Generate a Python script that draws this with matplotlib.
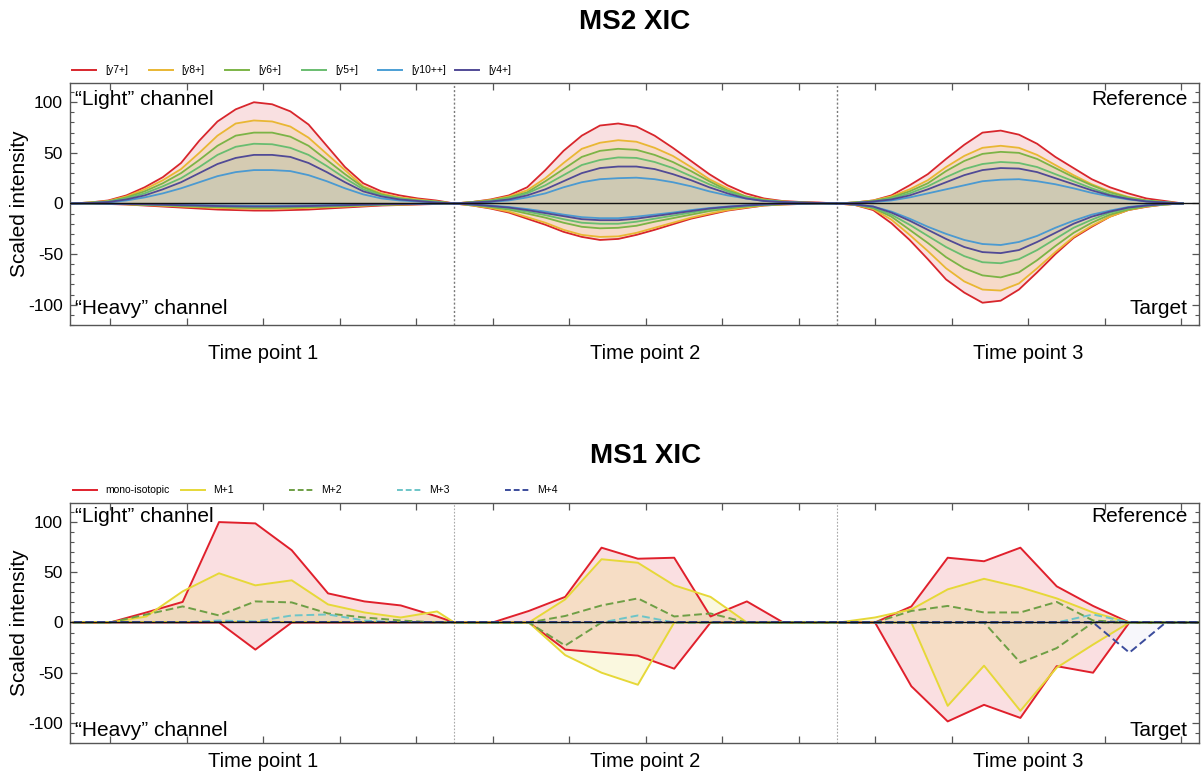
import numpy as np
import matplotlib
matplotlib.use("Agg")
import matplotlib.pyplot as plt
from matplotlib.lines import Line2D
from matplotlib.ticker import MultipleLocator, NullFormatter

plt.rcParams["font.family"] = ["Liberation Sans", "DejaVu Sans"]
plt.rcParams["axes.unicode_minus"] = False

# ---------------- MS2 fragment traces (scaled intensity) ----------------
# one list per time point; "light" = reference channel, "heavy" = target channel
y7_light = [
    [0, 1, 3, 8, 16, 26, 40, 62, 81, 93, 100, 98, 91, 78, 57, 36, 20, 12, 8, 5, 3, 0],
    [0, 1.5, 4, 8, 16, 33, 52, 67, 77, 79, 76, 67, 55, 42, 29, 18, 10, 5, 2.5, 1.5, 1, 0],
    [0, 1, 3, 8, 18, 29, 44, 58, 70, 72, 68, 59, 46, 35, 24, 16, 10, 5, 2.5, 0],
]
y8_light = [
    [0, 1, 2.5, 7, 14, 23, 34, 50, 67, 79, 82, 81, 76, 65, 49, 33, 17, 10, 6, 4, 2, 0],
    [0, 1.5, 3.5, 7, 13, 25, 40, 54, 60, 62.5, 61, 55, 47, 36, 24, 15, 7, 4, 2, 1, 0.5, 0],
    [0, 1, 3, 7, 14, 23, 36, 47, 55, 57, 55, 48, 38, 28, 19, 12, 6.5, 3, 1.5, 0],
]
y6_light = [
    [0, 1, 2, 6, 12, 20, 30, 43, 57, 67, 70, 70, 66, 57, 43, 29, 16, 9, 5, 3, 2, 0],
    [0, 1.5, 3, 6, 11, 22, 34, 46, 52, 54, 53, 48, 41, 32, 22, 13, 7, 3.5, 2, 1, 0.5, 0],
    [0, 1, 2.5, 6, 12, 20, 32, 42, 49, 51, 50, 44, 35, 26, 18, 11, 6, 3, 1.5, 0],
]
y5_light = [
    [0, 0.5, 2, 5, 10, 17, 25, 36, 48, 56, 59, 58.5, 55, 48, 37, 25, 14, 8, 5, 3, 1.5, 0],
    [0, 1, 2.5, 5, 10, 18, 28, 38, 43, 45.5, 45, 41, 35, 27, 19, 12, 6, 3, 1.5, 1, 0.5, 0],
    [0, 1, 2, 5, 10, 17, 26, 34, 39, 41, 40, 36, 29, 22, 15, 9, 5, 2.5, 1, 0],
]
y10_light = [
    [0, 0.5, 1, 3, 6, 10, 15, 21, 27, 31, 33, 33, 32, 28, 22, 15, 9, 5, 3, 2, 1, 0],
    [0, 0.5, 1.5, 3, 6, 10, 16, 21, 24, 25, 25.5, 24, 21, 17, 12, 8, 5, 2.5, 1.5, 0.5, 0.3, 0],
    [0, 0.5, 1.5, 3, 6, 10, 14, 18, 22, 23.5, 24, 22, 19, 15, 10.5, 7, 4, 2, 1, 0],
]
y4_light = [
    [0, 0.5, 1.5, 4, 8, 14, 21, 30, 39, 45, 48, 48, 46, 40, 31, 21, 12, 7, 4, 2.5, 1, 0],
    [0, 1, 2, 4, 8, 14, 22, 30, 35, 36.5, 36.5, 34, 29, 23, 16, 10, 5, 2.5, 1.5, 1, 0.5, 0],
    [0, 0.5, 2, 4, 8, 14, 21, 28, 33, 35, 34.5, 31, 25, 19, 13, 8, 4.5, 2, 1, 0],
]

y7_heavy = [
    [0, 0, -0.5, -1, -2, -3, -4, -5, -6, -6.5, -7, -7, -6.5, -6, -5, -4, -3, -2, -1.5, -1, -0.5, 0],
    [0, -2, -5, -9, -15, -21, -28, -33, -36, -35, -31, -26, -20.5, -15, -11, -7, -4.5, -2, -1, -0.5, 0, 0],
    [0, -1.5, -6.5, -19.5, -36, -55, -75, -88, -98, -96, -85, -68, -50, -34, -23, -13, -6.5, -3.3, -1, 0],
]
y8_heavy = [
    [0, 0, -0.4, -0.8, -1.5, -2.2, -3, -3.7, -4.4, -4.9, -5.2, -5.2, -4.9, -4.4, -3.7, -3, -2.2, -1.5, -1.1, -0.7, -0.4, 0],
    [0, -2, -4.5, -8, -13.5, -19, -26, -31, -33, -32.5, -29, -24, -19, -14, -10, -6.5, -4, -2, -1, -0.5, 0, 0],
    [0, -1.5, -5.5, -16, -31, -47, -64, -77, -85, -86, -79, -64, -48, -33, -22, -13, -6.5, -3, -1, 0],
]
y6_heavy = [
    [0, 0, -0.3, -0.7, -1.2, -1.8, -2.5, -3.1, -3.6, -4, -4.3, -4.3, -4, -3.6, -3.1, -2.5, -1.8, -1.2, -0.9, -0.6, -0.3, 0],
    [0, -1.5, -3.5, -6, -10, -14, -19, -23, -24.5, -24, -22, -18, -14.5, -11, -7.5, -5, -3, -1.5, -0.8, -0.3, 0, 0],
    [0, -1, -4.5, -13, -26, -39, -53, -64, -71, -73, -68, -56, -42, -29, -19, -11, -6, -2.5, -1, 0],
]
y5_heavy = [
    [0, 0, -0.3, -0.6, -1, -1.5, -2, -2.5, -3, -3.3, -3.5, -3.5, -3.3, -3, -2.5, -2, -1.5, -1, -0.7, -0.5, -0.2, 0],
    [0, -1.2, -3, -5, -8, -11.5, -15.5, -19, -20, -20, -18, -15, -12, -9, -6, -4, -2.5, -1.2, -0.6, -0.3, 0, 0],
    [0, -1, -4, -11, -21, -32, -43, -52, -58, -59, -55, -46, -35, -24, -16, -9, -5, -2, -1, 0],
]
y10_heavy = [
    [0, 0, -0.2, -0.4, -0.6, -0.9, -1.3, -1.6, -1.9, -2.1, -2.3, -2.3, -2.1, -1.9, -1.6, -1.3, -0.9, -0.6, -0.5, -0.3, -0.1, 0],
    [0, -1, -2, -3.5, -5.5, -8, -11, -13.5, -14.5, -14.5, -13, -11, -9, -6.5, -4.5, -3, -1.8, -0.9, -0.4, -0.2, 0, 0],
    [0, -1, -3, -8, -15, -23, -30, -36, -40, -41, -38, -32, -24, -17, -11, -7, -3.5, -1.5, -0.5, 0],
]
y4_heavy = [
    [0, 0, -0.2, -0.5, -0.8, -1.2, -1.7, -2.1, -2.5, -2.8, -3, -3, -2.8, -2.5, -2.1, -1.7, -1.2, -0.8, -0.6, -0.4, -0.2, 0],
    [0, -1, -2.5, -4, -6.5, -9.5, -12.5, -15.5, -16.5, -16.5, -15, -12.5, -10, -7.5, -5, -3.3, -2, -1, -0.5, -0.2, 0, 0],
    [0, -1, -3, -9, -17, -26, -35, -43, -48, -49, -46, -38, -29, -20, -13, -8, -4, -2, -0.5, 0],
]

# ---------------- MS1 isotope traces (scaled intensity) ----------------
# MS1 scan offsets inside each time-point window
ms1_offsets = [0.025, 0.5, 0.975, 1.45, 1.925, 2.4, 2.875, 3.35, 3.825, 4.3, 4.775, 5.0]

mono_light = [
    [0, 0, 10, 20.5, 100, 98.7, 72, 29, 21, 17, 6, 0],
    [0, 0, 11.5, 25.5, 74.5, 63.5, 64.5, 6, 21, 0, 0, 0],
    [0, 0, 16, 64.5, 61, 74.5, 36, 16.5, 0, 0, 0, 0],
]
mono_heavy = [
    [0, 0, 0, 0, 0, -27, 0, 0, 0, 0, 0, 0],
    [0, 0, 0, -27, -30, -33, -46, 0, 0, 0, 0, 0],
    [0, 0, -63.5, -98.5, -82, -95, -43.5, -50, 0, 0, 0, 0],
]
m1_light = [
    [0, 0, 6, 31, 49, 37, 42, 18, 10, 5, 11, 0],
    [0, 0, 0, 23, 63, 59.5, 37, 25.5, 0, 0, 0, 0],
    [0, 5, 13, 33, 43.5, 35, 24, 10, 0, 0, 0, 0],
]
m1_heavy = [
    [0, 0, 0, 0, 0, 0, 0, 0, 0, 0, 0, 0],
    [0, 0, 0, -32.5, -50, -62, 0, 0, 0, 0, 0, 0],
    [0, 0, 0, -83, -43, -88, -45, -22, 0, 0, 0, 0],
]
m2_light = [
    [0, 0, 8, 16, 7, 21, 20, 9, 5, 2, 0, 0],
    [0, 0, 0, 6.5, 17, 24, 6, 9, 0, 0, 0, 0],
    [0, 0, 11.5, 16.5, 10, 10, 20.5, 2, 0, 0, 0, 0],
]
m2_heavy = [
    [0, 0, 0, 0, 0, 0, 0, 0, 0, 0, 0, 0],
    [0, 0, 0, -23, 0, 0, 0, 0, 0, 0, 0, 0],
    [0, 0, 0, 0, 0, -40, -25.5, 0, 0, 0, 0, 0],
]
m3_light = [
    [0, 0, 0, 0, 2, 1, 7, 8, 2, 0, 0, 0],
    [0, 0, 0, 0, 0, 7, 0, 0, 0, 0, 0, 0],
    [0, 0, 0, 0, 0, 0, 0, 8, 0, 0, 0, 0],
]
m3_heavy = [
    [0, 0, 0, 0, 0, 0, 0, 0, 0, 0, 0, 0],
    [0, 0, 0, 0, 0, 0, 0, 0, 0, 0, 0, 0],
    [0, 0, 0, 0, 0, 0, 0, 0, 0, 0, 0, 0],
]
m4_light = [
    [0, 0, 0, 0, 0, 0, 0, 0, 0, 0, 0, 0],
    [0, 0, 0, 0, 0, 0, 0, 0, 0, 0, 0, 0],
    [0, 0, 0, 0, 0, 0, 0, 0, 0, 0, 0, 0],
]
m4_heavy = [
    [0, 0, 0, 0, 0, 0, 0, 0, 0, 0, 0, 0],
    [0, 0, 0, 0, 0, 0, 0, 0, 0, 0, 0, 0],
    [0, 0, 0, 0, 0, 0, 0, 0, -30, 0, 0, 0],
]

time_points = ["Time point 1", "Time point 2", "Time point 3"]
ms2_labels = ["[y7+]", "[y8+]", "[y6+]", "[y5+]", "[y10++]", "[y4+]"]
ms1_labels = ["mono-isotopic", "M+1", "M+2", "M+3", "M+4"]

# ---------------- styling ----------------
window_starts = [-0.5, 4.5, 9.5]
window_width = 5.0
ms2_step = window_width / 21

ms2_colors = ["#d8262c", "#e9b733", "#7cb446", "#69bd70", "#4b9fd5", "#514a96"]
ms2_fill_alpha = [0.14, 0.14, 0.10, 0.08, 0.05, 0.06]
ms1_colors = ["#e0202c", "#e6d838", "#6e9f45", "#6cc5c8", "#3b4c9c"]
ms1_styles = ["-", "-", (0, (4, 2)), (0, (4, 2)), (0, (4, 2))]
ms1_fill_alpha = [0.14, 0.16, 0.05, 0.04, 0.04]

W, H = 1201, 776
fig = plt.figure(figsize=(W / 100, H / 100), dpi=100)


def fig_rect(left, top, right, bottom):
    return [left / W, 1 - bottom / H, (right - left) / W, (bottom - top) / H]


ax_ms2 = fig.add_axes(fig_rect(70, 83, 1199, 325))
ax_ms1 = fig.add_axes(fig_rect(70, 503, 1199, 743))


def style_axes(ax, divider_color, divider_lw):
    ax.set_xlim(-0.523, 14.235)
    ax.set_ylim(-120, 119)
    ax.xaxis.set_major_locator(MultipleLocator(1))
    ax.xaxis.set_major_formatter(NullFormatter())
    ax.yaxis.set_major_locator(MultipleLocator(50))
    ax.yaxis.set_minor_locator(MultipleLocator(10))
    ax.tick_params(which="both", direction="in", top=True, right=True,
                   color="#555555", labelsize=12.5, pad=5)
    ax.tick_params(which="major", length=5, width=0.9)
    ax.tick_params(which="minor", length=3, width=0.8)
    ax.tick_params(axis="x", which="minor", length=0)
    for sp in ax.spines.values():
        sp.set_color("#555555")
        sp.set_linewidth(1.0)
    for b in window_starts[1:]:
        ax.axvline(b, color=divider_color, lw=divider_lw, ls=(0, (1.5, 1.5)), zorder=1)
    ax.axhline(0, color="#111111", lw=1.0, zorder=6)
    ax.set_ylabel("Scaled intensity", fontsize=15)
    ax.yaxis.set_label_coords(-41 / 1129, 0.5)


# ---------------- MS2 panel ----------------
ms2_light = [y7_light, y8_light, y6_light, y5_light, y10_light, y4_light]
ms2_heavy = [y7_heavy, y8_heavy, y6_heavy, y5_heavy, y10_heavy, y4_heavy]
for light, heavy, color, fa in zip(ms2_light, ms2_heavy, ms2_colors, ms2_fill_alpha):
    for w0, yl, yh in zip(window_starts, light, heavy):
        x = w0 + ms2_step * np.arange(len(yl))
        for y in (yl, yh):
            ax_ms2.plot(x, y, color=color, lw=1.3, zorder=3)
            ax_ms2.fill_between(x, 0, y, color=color, alpha=fa, lw=0, zorder=3)

style_axes(ax_ms2, "#7a7a7a", 1.0)

# ---------------- MS1 panel ----------------
ms1_light = [mono_light, m1_light, m2_light, m3_light, m4_light]
ms1_heavy = [mono_heavy, m1_heavy, m2_heavy, m3_heavy, m4_heavy]
offsets = np.array(ms1_offsets)
for light, heavy, color, ls, fa in zip(ms1_light, ms1_heavy, ms1_colors, ms1_styles, ms1_fill_alpha):
    for w0, yl, yh in zip(window_starts, light, heavy):
        x = w0 + offsets
        for y in (yl, yh):
            ax_ms1.fill_between(x, 0, y, color=color, alpha=fa, lw=0, zorder=2)
            ax_ms1.plot(x, y, color=color, lw=1.4, ls=ls, zorder=4)

style_axes(ax_ms1, "#a8a8a8", 0.8)

# ---------------- annotations ----------------
corner_fs = 15
for ax, ytop, ybot, ylab in ((ax_ms2, 0.93, 0.07, -0.116), (ax_ms1, 0.945, 0.05, -0.079)):
    ax.text(0.0045, ytop, "\u201cLight\u201d channel", transform=ax.transAxes,
            ha="left", va="center", fontsize=corner_fs, zorder=8)
    ax.text(0.0045, ybot, "\u201cHeavy\u201d channel", transform=ax.transAxes,
            ha="left", va="center", fontsize=corner_fs, zorder=8)
    ax.text(0.9895, ytop, "Reference", transform=ax.transAxes,
            ha="right", va="center", fontsize=corner_fs, zorder=8)
    ax.text(0.9895, ybot, "Target", transform=ax.transAxes,
            ha="right", va="center", fontsize=corner_fs, zorder=8)
    for w0, name in zip(window_starts, time_points):
        ax.text(w0 + window_width / 2, ylab, name, transform=ax.get_xaxis_transform(),
                ha="center", va="center", fontsize=14.5)

fig.text(635 / W, 1 - 22 / H, "MS2 XIC", ha="center", va="center",
         fontsize=20, fontweight="bold")
fig.text(646 / W, 1 - 456 / H, "MS1 XIC", ha="center", va="center",
         fontsize=20, fontweight="bold")


# ---------------- legends ----------------
def legend_row(labels, colors, styles, x0, step, y, text_gap):
    for i, (lab, col, ls) in enumerate(zip(labels, colors, styles)):
        xs = x0 + i * step
        fig.add_artist(Line2D([xs / W, (xs + 24) / W], [1 - y / H, 1 - y / H],
                              color=col, lw=1.4, ls=ls, transform=fig.transFigure))
        fig.text((xs + text_gap) / W, 1 - y / H, lab, ha="left", va="center", fontsize=7.5)


legend_row(ms2_labels, ms2_colors, ["-"] * 6, 72, 76.6, 70, 33)
legend_row(ms1_labels, ms1_colors, ["-", "-", (0, (3, 1.5)), (0, (3, 1.5)), (0, (3, 1.5))],
           73, 108, 490, 32)

fig.savefig("out.png", dpi=100)
